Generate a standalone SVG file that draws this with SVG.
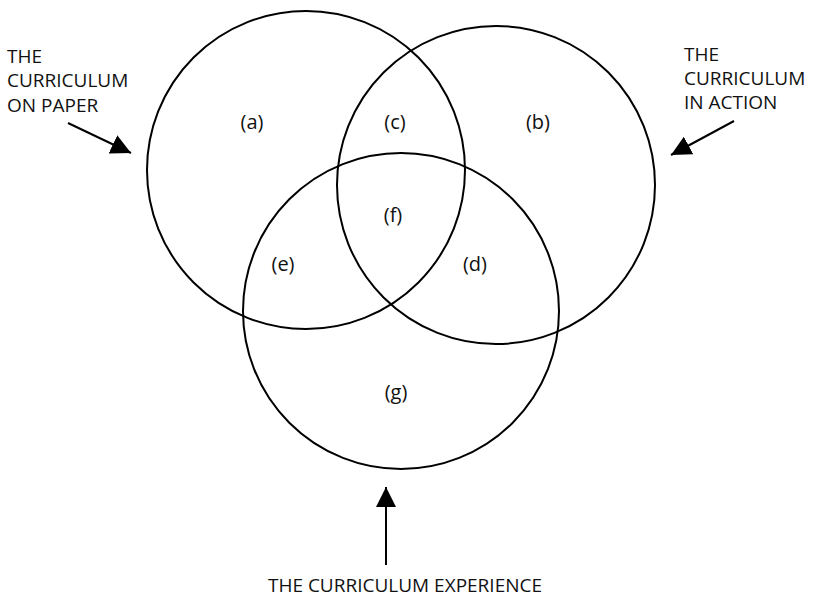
<svg xmlns="http://www.w3.org/2000/svg" width="818" height="599" viewBox="0 0 818 599">
<style>
.c{fill:none;stroke:#000;stroke-width:2}
.t{font-family:"Open Sans","DejaVu Sans",sans-serif;font-size:19px;fill:#111}
.l{font-family:"Open Sans","DejaVu Sans",sans-serif;font-size:20px;fill:#111;text-anchor:middle}
.a{stroke:#000;stroke-width:2;fill:none;marker-end:url(#ah)}
</style>
<defs>
<marker id="ah" viewBox="0 0 20 20" refX="20" refY="10" markerWidth="20" markerHeight="20" markerUnits="userSpaceOnUse" orient="auto">
<path d="M0,0 L20,10 L0,20 z" fill="#000"/>
</marker>
</defs>
<rect width="818" height="599" fill="#fff"/>
<g id="paper"><circle class="c" cx="306" cy="170" r="159"/></g>
<g id="action"><circle class="c" cx="496" cy="185" r="159"/></g>
<g id="experience"><circle class="c" cx="401" cy="311" r="158"/></g>
<g id="regions">
<text class="l" x="252" y="129">(a)</text>
<text class="l" x="395" y="129">(c)</text>
<text class="l" x="538" y="129">(b)</text>
<text class="l" x="393" y="222">(f)</text>
<text class="l" x="283" y="271">(e)</text>
<text class="l" x="475" y="271">(d)</text>
<text class="l" x="396" y="399">(g)</text>
</g>
<g id="label-paper">
<text class="t" x="7" y="63">THE</text>
<text class="t" x="7" y="87">CURRICULUM</text>
<text class="t" x="7" y="112">ON PAPER</text>
</g>
<g id="label-action">
<text class="t" x="684" y="61">THE</text>
<text class="t" x="684" y="85">CURRICULUM</text>
<text class="t" x="684" y="109">IN ACTION</text>
</g>
<g id="label-experience">
<text class="t" x="405" y="592" text-anchor="middle">THE CURRICULUM EXPERIENCE</text>
</g>
<g id="connectors">
<line class="a" x1="68" y1="123" x2="131" y2="153"/>
<line class="a" x1="734" y1="121" x2="671" y2="155"/>
<line class="a" x1="386" y1="565" x2="386" y2="487"/>
</g>
</svg>
